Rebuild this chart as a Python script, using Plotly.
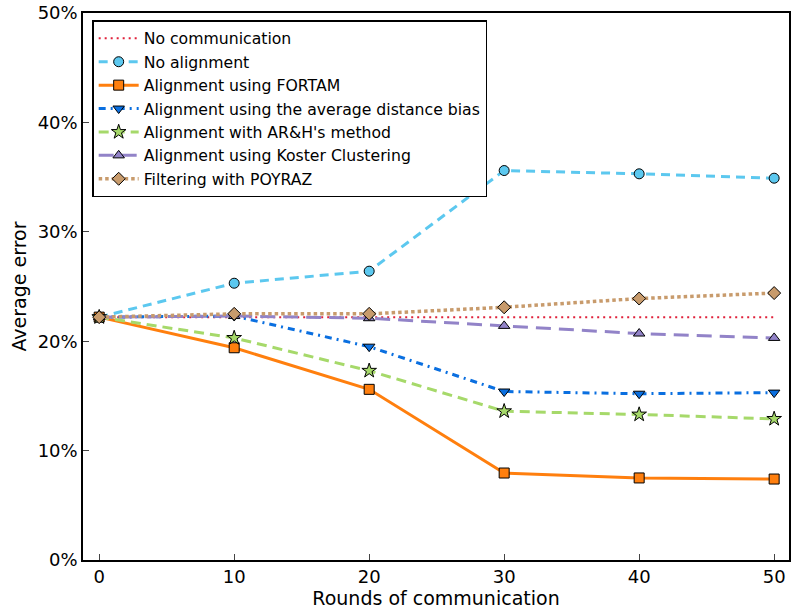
import plotly.graph_objects as go

rounds = [0, 10, 20, 30, 40, 50]
no_comm = [22.2, 22.2, 22.2, 22.2, 22.2, 22.2]
no_align = [22.2, 25.3, 26.4, 35.6, 35.3, 34.9]
fortam = [22.2, 19.4, 15.6, 7.95, 7.5, 7.4]
avg_bias = [22.2, 22.3, 19.5, 15.4, 15.2, 15.3]
arh = [22.2, 20.3, 17.3, 13.6, 13.3, 12.9]
koster = [22.2, 22.3, 22.1, 21.4, 20.7, 20.3]
poyraz = [22.2, 22.5, 22.5, 23.1, 23.9, 24.4]
y_ticks = [0, 10, 20, 30, 40, 50]
y_labels = ["0%", "10%", "20%", "30%", "40%", "50%"]
x_ticks = [0, 10, 20, 30, 40, 50]

series = [
    ("No communication", no_comm, "#e0203a", "2px,4px", 2, None),
    ("No alignment", no_align, "#5cc8ef", "9px,6px", 3, "circle"),
    ("Alignment using FORTAM", fortam, "#ff7f0e", "solid", 3, "square"),
    ("Alignment using the average distance bias", avg_bias, "#0a6fe0", "7px,5px,2px,5px", 3, "triangle-down"),
    ("Alignment with AR&H's method", arh, "#a6d96a", "10px,6px", 3, "star"),
    ("Alignment using Koster Clustering", koster, "#9283c8", "15px,8px", 3, "triangle-up"),
    ("Filtering with POYRAZ", poyraz, "#c89b6c", "3.5px,3px", 3.5, "diamond"),
]

fig = go.Figure()
for name, vals, color, dash, w, sym in series:
    if sym:
        kw = dict(mode="lines+markers",
                  marker=dict(symbol=sym, size=10 if sym != "star" else 11,
                              color=color, line=dict(color="black", width=1)))
    else:
        kw = dict(mode="lines")
    fig.add_trace(go.Scatter(x=rounds, y=vals, name=name,
                             line=dict(color=color, dash=dash, width=w), **kw))

fig.update_layout(
    width=793, height=613,
    margin=dict(l=83, r=2, t=13, b=53),
    paper_bgcolor="white", plot_bgcolor="white",
    font=dict(family="DejaVu Sans", size=18, color="black"),
    legend=dict(x=0.013, y=0.987, xanchor="left", yanchor="top",
                bordercolor="black", borderwidth=1.5, bgcolor="white",
                font=dict(size=15.7), tracegroupgap=0, itemwidth=40),
    showlegend=True,
)
fig.update_xaxes(range=[-1.2, 51.1], tickvals=x_ticks,
                 ticks="inside", ticklen=6, mirror=True, showline=True,
                 linecolor="black", linewidth=1.5, showgrid=False, zeroline=False,
                 title=dict(text="Rounds of communication", font=dict(size=19), standoff=2))
fig.update_yaxes(range=[0, 50], tickvals=y_ticks, ticktext=y_labels,
                 ticks="inside", ticklen=6, mirror=True, showline=True,
                 linecolor="black", linewidth=1.5, showgrid=False, zeroline=False,
                 title=dict(text="Average error", font=dict(size=19), standoff=6))

fig.write_html("out.html", config={"displayModeBar": False},
               post_script="document.body.style.margin='0';")
